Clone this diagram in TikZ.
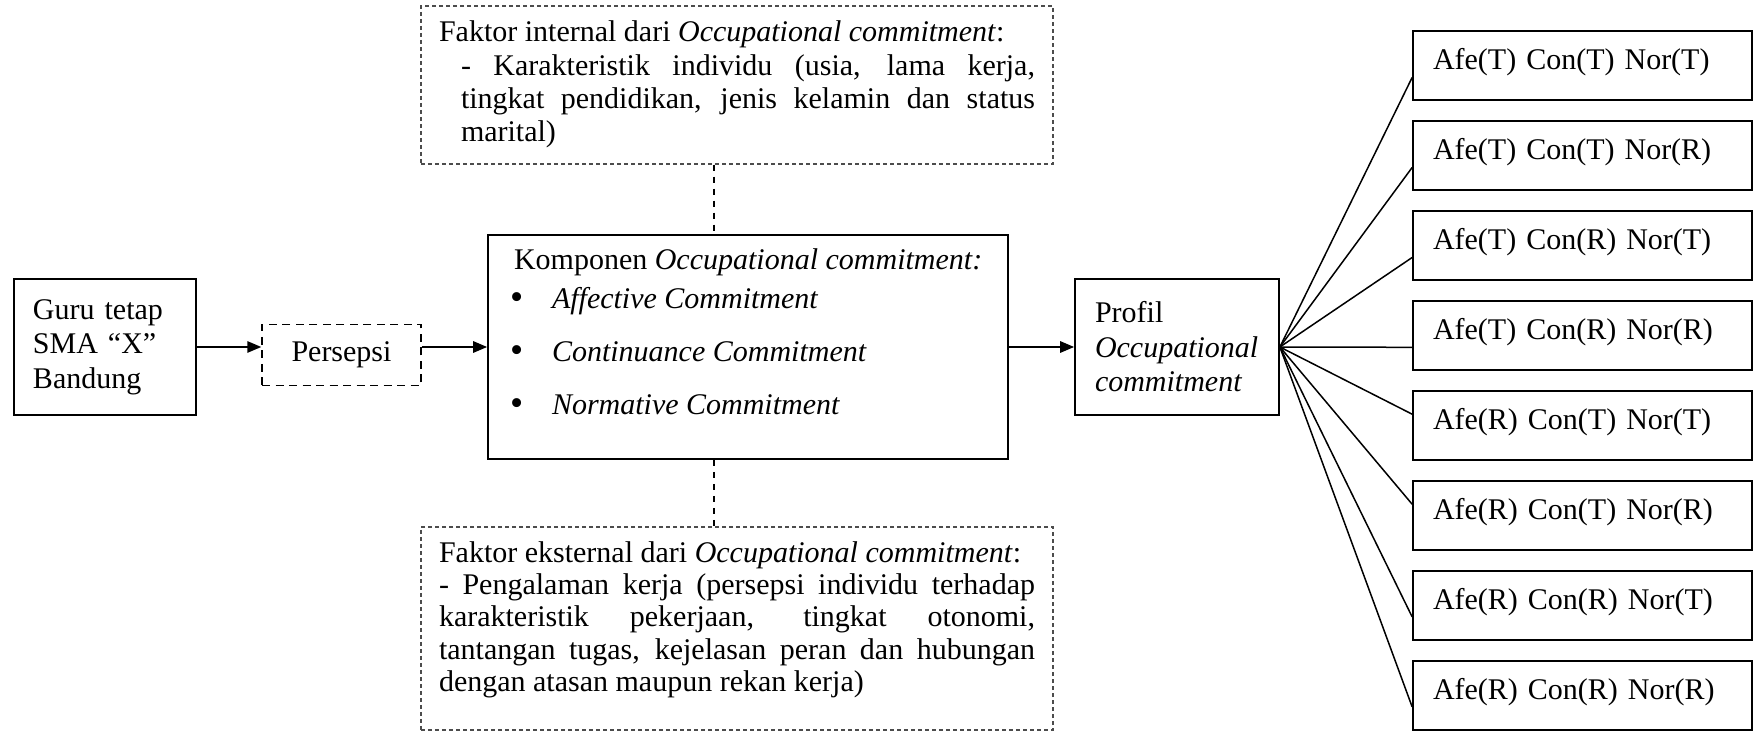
\documentclass[tikz,border=0pt]{standalone}
\usepackage{fontspec}
\setmainfont{Liberation Serif}
\usetikzlibrary{arrows.meta,calc}
\hbadness=10000
\hfuzz=2pt
\newcommand{\bigbul}{\makebox[16.8pt][l]{\raisebox{-0.3pt}{\fontsize{15pt}{15pt}\selectfont\textbullet}}}
\begin{document}
\begin{tikzpicture}[x=0.4pt,y=-0.4pt,
  every node/.style={font=\fontsize{12pt}{13.8pt}\selectfont},
  solidbox/.style={draw, line width=0.7pt, inner sep=0pt},
  persbox/.style={draw, line width=0.6pt, dash pattern=on 3.2pt off 2.2pt, inner sep=0pt},
  factorbox/.style={draw=black!70, line width=0.45pt, dash pattern=on 1.6pt off 1.2pt, inner sep=0pt},
  arr/.style={line width=0.6pt, -{Triangle[length=5.6pt,width=4.6pt]}},
  fan/.style={line width=0.6pt},
  vdash/.style={line width=0.55pt, dash pattern=on 2.4pt off 2.4pt},
  combo/.style={solidbox, minimum width=135.6pt, minimum height=27.6pt, text width=119.6pt, align=left, inner xsep=8pt, text height=8.8pt, text depth=5.2pt}
]
\useasboundingbox (0,0) rectangle (1754,731);

\node[solidbox, minimum width=72.8pt, minimum height=54.4pt, text width=57.6pt, inner xsep=7.6pt, align=left] (guru) at (105,347) {Guru tetap\\SMA “X”\\Bandung};

\node[persbox, minimum width=63.6pt, minimum height=24.4pt] (pers) at (341.5,355) {Persepsi};

\node[solidbox, minimum width=208pt, minimum height=89.6pt] (komp) at (748,347) {\parbox[c][89.6pt][t]{190.4pt}{\raggedright
\rule{0pt}{14pt}\hspace*{1.6pt}Komponen \textit{Occupational commitment:}\\[1.8pt]
\bigbul\textit{Affective Commitment}\\[7.4pt]
\bigbul\textit{Continuance Commitment}\\[7.4pt]
\bigbul\textit{Normative Commitment}}};

\node[factorbox, minimum width=252.8pt, minimum height=63.2pt] (intern) at (737,85) {\parbox[c][63.2pt][t]{238.4pt}{\baselineskip=13.3pt
\rule{0pt}{14.4pt}Faktor internal dari \textit{Occupational commitment}:\\
\hspace*{8.8pt}\makebox[229.6pt][s]{- Karakteristik individu (usia, lama kerja,}\\
\hspace*{8.8pt}\makebox[229.6pt][s]{tingkat pendidikan, jenis kelamin dan status}\\
\hspace*{8.8pt}marital)}};

\node[factorbox, minimum width=252.8pt, minimum height=81.2pt] (extern) at (737,628.5) {\parbox[c][81.2pt][t]{238.4pt}{\baselineskip=12.8pt
\rule{0pt}{14.4pt}Faktor eksternal dari \textit{Occupational commitment}:\\
\makebox[238.4pt][s]{- Pengalaman kerja (persepsi individu terhadap}\\
\makebox[238.4pt][s]{karakteristik pekerjaan, tingkat otonomi,}\\
\makebox[238.4pt][s]{tantangan tugas, kejelasan peran dan hubungan}\\
dengan atasan maupun rekan kerja)}};

\node[solidbox, minimum width=81.6pt, minimum height=54.4pt, text width=65.6pt, inner xsep=8pt, align=left] (prof) at (1177,347) {Profil\\\textit{Occupational}\\\textit{commitment}};

\node[combo] (c1) at (1582.5,65.5) {Afe(T) Con(T) Nor(T)};
\node[combo] (c2) at (1582.5,155.5) {Afe(T) Con(T) Nor(R)};
\node[combo] (c3) at (1582.5,245.5) {Afe(T) Con(R) Nor(T)};
\node[combo] (c4) at (1582.5,335.5) {Afe(T) Con(R) Nor(R)};
\node[combo] (c5) at (1582.5,425.5) {Afe(R) Con(T) Nor(T)};
\node[combo] (c6) at (1582.5,515.5) {Afe(R) Con(T) Nor(R)};
\node[combo] (c7) at (1582.5,605.5) {Afe(R) Con(R) Nor(T)};
\node[combo] (c8) at (1582.5,695.5) {Afe(R) Con(R) Nor(R)};

\draw[arr] (guru.east) -- (guru.east -| pers.west);
\draw[arr] (guru.east -| pers.east) -- (guru.east -| komp.west);
\draw[arr] (komp.east) -- (komp.east -| prof.west);

\coordinate (vx) at (714,0);
\draw[vdash] (intern.south -| vx) -- (komp.north -| vx);
\draw[vdash] (komp.south -| vx) -- (extern.north -| vx);

\foreach \n/\f in {c1/0.67, c2/0.67, c3/0.67, c4/0.667, c5/0.34, c6/0.34, c7/0.66, c8/0.66}
  \draw[fan] (prof.east) -- ($(\n.north west)!\f!(\n.south west)$);
\end{tikzpicture}
\end{document}
